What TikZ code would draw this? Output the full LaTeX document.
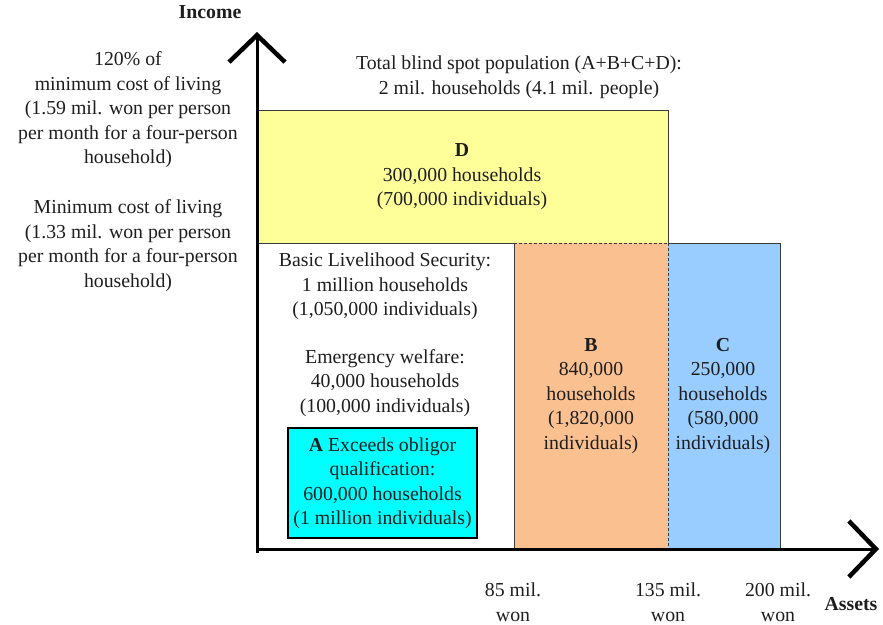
\documentclass[tikz,border=0pt]{standalone}
\usepackage{fontspec}
\setmainfont{Liberation Serif}
\usepackage{tikz}
\usetikzlibrary{positioning, arrows.meta}
\definecolor{PaleYellow}{RGB}{255, 255, 153}
\definecolor{PeachOrange}{RGB}{250, 192, 144}
\definecolor{SkyBlue}{RGB}{153, 204, 255}
\definecolor{BrightCyan}{RGB}{0, 255, 255}
\definecolor{DarkText}{RGB}{30, 30, 30}
\definecolor{EdgeGray}{RGB}{60, 60, 60}

\begin{document}
\begin{tikzpicture}[x=1pt, y=-1pt,
    lbl/.style={font=\fontsize{19.8}{24.5}\selectfont, align=center, inner sep=0pt, text=DarkText},
    axislbl/.style={font=\fontsize{19.8}{24.5}\selectfont\bfseries, inner sep=0pt, text=DarkText},
    edge/.style={EdgeGray, line width=1pt},
    axisline/.style={black, line width=3pt, -{Straight Barb[length=27pt, width=56pt, line width=4.5pt]}}]
    \useasboundingbox (0,0) rectangle (883,624);

    % Fills of regions D, B, C
    \fill[PaleYellow] (257,110) rectangle (668,243);
    \fill[PeachOrange] (514,243) rectangle (668,549);
    \fill[SkyBlue] (668,243) rectangle (780,549);

    % Region borders
    \draw[edge] (257,243) -- (257,110) -- (668,110) -- (668,243);
    \draw[edge] (257,243) -- (514,243);
    \draw[edge] (514,243) -- (514,549);
    \draw[edge] (668,243) -- (780,243) -- (780,549);
    \draw[edge, dash pattern=on 3pt off 2pt] (514,243) -- (668,243);
    \draw[edge, dash pattern=on 3pt off 2pt] (668,243) -- (668,549);

    % Axes
    \coordinate (origin) at (257,549);
    \coordinate (ybot) at (257,553);
    \coordinate (ytip) at (257,32);
    \coordinate (xtip) at (879,549);
    \draw[axisline] (ybot) -- (ytip);
    \draw[axisline] (origin) -- (xtip);

    \node[axislbl] (income) at (210,12) {Income};
    \node[axislbl] (assets) at (851,604) {Assets};

    % Income levels
    \node[lbl] (upper) at (128,110) {120\% of\\minimum cost of living\\(1.59 mil. won per person\\per month for a four-person\\household)};
    \node[lbl] (lower) at (128,245.5) {Minimum cost of living\\(1.33 mil. won per person\\per month for a four-person\\household)};

    % Totals and regions
    \node[lbl] (total) at (519,77) {Total blind spot population (A+B+C+D):\\2 mil. households (4.1 mil. people)};
    \node[lbl] (regD) at (462,177) {\textbf{D}\\300,000 households\\(700,000 individuals)};
    \node[lbl] (basic) at (385,286.5) {Basic Livelihood Security:\\1 million households\\(1,050,000 individuals)};
    \node[lbl] (emerg) at (385,383) {Emergency welfare:\\40,000 households\\(100,000 individuals)};
    \node[lbl, fill=BrightCyan, draw=black, line width=2.5pt, minimum width=189pt, minimum height=110pt] (regA) at (382.5,483)
      {\textbf{A} Exceeds obligor\\qualification:\\600,000 households\\(1 million individuals)};
    \node[lbl] (regB) at (591,396) {\textbf{B}\\840,000\\households\\(1,820,000\\individuals)};
    \node[lbl] (regC) at (723,396) {\textbf{C}\\250,000\\households\\(580,000\\individuals)};

    % Asset levels
    \node[lbl] (a85) at (513,602) {85 mil.\\won};
    \node[lbl] (a135) at (668,602) {135 mil.\\won};
    \node[lbl] (a200) at (778,602) {200 mil.\\won};
\end{tikzpicture}
\end{document}
